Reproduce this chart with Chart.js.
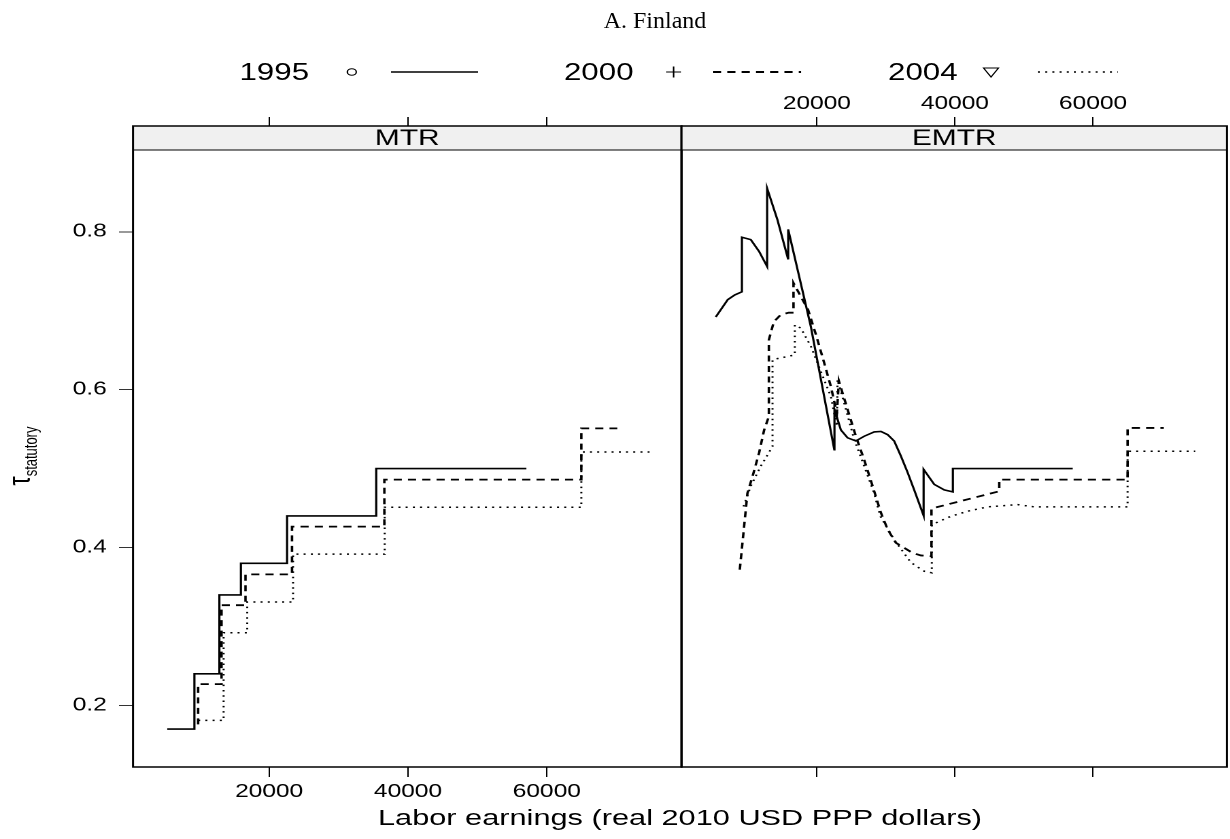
<!DOCTYPE html>
<html>
<head>
<meta charset="utf-8">
<script src="https://cdn.jsdelivr.net/npm/chart.js@4.4.1/dist/chart.umd.min.js"></script>
<style>
  html, body { margin: 0; padding: 0; background: #fff; overflow: hidden; }
  /* the reference is drawn horizontally stretched, so the whole figure is too */
  #wrap { position: relative; width: 904px; height: 839px; transform: scaleX(1.36); transform-origin: 0 0; }
  canvas { position: absolute; top: 0; }
  #mtr { left: 0; }
  #emtr { left: 480px; }
  #deco { position: absolute; left: 0; top: 0; }
</style>
</head>
<body>
<div id="wrap">
  <canvas id="mtr" width="520" height="839"></canvas>
  <canvas id="emtr" width="424" height="839"></canvas>
  <svg id="deco" width="904" height="839"></svg>
</div>
<script>
const years = ['1995', '2000', '2004'];
const panels = ['MTR', 'EMTR'];
const xTicks = [20000, 40000, 60000];
const yTicks = [0.2, 0.4, 0.6, 0.8];

// MTR: step functions, each value holds from its x until the next x
const mtr1995X = [5330, 9240, 12840, 15940, 22590, 35430, 57060];
const mtr1995Y = [0.170, 0.240, 0.340, 0.380, 0.440, 0.500, 0.500];
const mtr2000X = [9780, 9780, 13150, 16600, 23300, 36600, 64970, 70150];
const mtr2000Y = [0.176, 0.227, 0.327, 0.366, 0.4265, 0.486, 0.551, 0.551];
const mtr2004X = [9780, 13450, 16850, 23450, 36650, 64970, 74800];
const mtr2004Y = [0.181, 0.292, 0.331, 0.3916, 0.451, 0.521, 0.521];

// EMTR: curves
const emtr1995X = [5360, 7100, 8120, 9150, 9150, 10430, 11640, 12800, 12800, 14300, 15850, 15850, 19130, 22550, 22550, 23480, 24450, 25650, 26860, 28300, 29280, 30250, 31200, 32170, 33150, 34100, 35460, 35460, 37000, 38450, 39700, 39700, 57060];
const emtr1995Y = [0.692, 0.714, 0.720, 0.724, 0.793, 0.790, 0.775, 0.756, 0.855, 0.815, 0.765, 0.803, 0.680, 0.523, 0.575, 0.549, 0.539, 0.535, 0.541, 0.5465, 0.547, 0.543, 0.535, 0.516, 0.495, 0.473, 0.4405, 0.499, 0.480, 0.473, 0.4705, 0.500, 0.500];
const emtr2000X = [8840, 9470, 9950, 10680, 11640, 12370, 13050, 13050, 13770, 14780, 15940, 16620, 16620, 18740, 19860, 21060, 22030, 22900, 23190, 24450, 25650, 26860, 28070, 29280, 30250, 31450, 32650, 33900, 35070, 36600, 36600, 46420, 46420, 65000, 65000, 70250];
const emtr2000Y = [0.372, 0.427, 0.469, 0.490, 0.520, 0.549, 0.566, 0.663, 0.686, 0.695, 0.6975, 0.6975, 0.735, 0.701, 0.670, 0.634, 0.604, 0.570, 0.611, 0.575, 0.541, 0.511, 0.478, 0.444, 0.423, 0.406, 0.3996, 0.393, 0.390, 0.389, 0.4494, 0.4713, 0.486, 0.486, 0.5515, 0.5515];
const emtr2004X = [9380, 10440, 11880, 13580, 13580, 16810, 16810, 17680, 19130, 20580, 22030, 22900, 23000, 23960, 25410, 26860, 28300, 29170, 31200, 33620, 35550, 36650, 36650, 39420, 41840, 44740, 49090, 51490, 65000, 65000, 74800];
const emtr2004Y = [0.452, 0.478, 0.503, 0.528, 0.638, 0.644, 0.682, 0.678, 0.655, 0.623, 0.5915, 0.5535, 0.613, 0.583, 0.537, 0.503, 0.469, 0.440, 0.410, 0.381, 0.370, 0.368, 0.429, 0.4396, 0.446, 0.4515, 0.4544, 0.4515, 0.4515, 0.522, 0.522];

const SANS = "'Liberation Sans', Arial, sans-serif";
const SERIF = "'Liberation Serif', 'Times New Roman', serif";
const STRETCH = 1.36;
const xMin = 400, xMax = 79400;
const yMin = 0.122, yMax = 0.934;

const lineStyles = [
  { dash: [], width: 1.6 },
  { dash: [6, 4.5], width: 1.8 },
  { dash: [1.5, 3.8], width: 1.5 }
];

function series(xs, ys) {
  return xs.map((x, i) => ({ x: x, y: ys[i] }));
}

function makeDatasets(pairs, stepped) {
  return pairs.map((p, i) => ({
    label: years[i],
    data: series(p[0], p[1]),
    showLine: true,
    stepped: stepped,
    borderColor: '#000',
    borderWidth: lineStyles[i].width,
    borderDash: lineStyles[i].dash,
    borderCapStyle: 'butt',
    pointRadius: 0,
    fill: false
  }));
}

// strip with panel name + frame around the panel
const stripPlugin = {
  id: 'strip',
  afterDraw(chart, args, opts) {
    const { ctx, chartArea: a } = chart;
    ctx.save();
    ctx.fillStyle = '#f0f0f0';
    ctx.fillRect(a.left, a.top, a.right - a.left, 24);
    ctx.strokeStyle = '#000';
    ctx.lineWidth = 1;
    ctx.beginPath();
    ctx.moveTo(a.left, a.top + 24);
    ctx.lineTo(a.right, a.top + 24);
    ctx.stroke();
    ctx.fillStyle = '#000';
    ctx.font = '22px ' + SANS;
    ctx.textAlign = 'center';
    ctx.textBaseline = 'middle';
    ctx.fillText(opts.text, (a.left + a.right) / 2, a.top + 13);
    ctx.lineWidth = 1.5;
    ctx.strokeRect(a.left, a.top, a.right - a.left, a.bottom - a.top);
    ctx.restore();
  }
};

function makePanel(id, name, datasets, stepped, leftWidth, padRight, first) {
  const tickFont = { family: SANS, size: 18 };
  const setXTicks = s => { s.ticks = xTicks.map(v => ({ value: v })); };
  return new Chart(document.getElementById(id), {
    type: 'scatter',
    data: { datasets: makeDatasets(datasets, stepped) },
    plugins: [stripPlugin],
    options: {
      responsive: false,
      animation: false,
      devicePixelRatio: 2,
      layout: { padding: { left: 0, right: padRight, top: 0, bottom: 0 }, autoPadding: false },
      plugins: { legend: { display: false }, tooltip: { enabled: false }, strip: { text: name } },
      scales: {
        x: {
          type: 'linear', position: 'bottom', min: xMin, max: xMax,
          afterBuildTicks: setXTicks,
          afterFit: s => { s.height = 72; },
          ticks: { display: first, font: tickFont, color: '#000', padding: 4, maxRotation: 0, autoSkip: false, callback: v => String(v) },
          grid: { drawOnChartArea: false, tickLength: 10, tickColor: '#000', lineWidth: 1 },
          border: { display: false }
        },
        xTop: {
          type: 'linear', position: 'top', min: xMin, max: xMax,
          afterBuildTicks: setXTicks,
          afterFit: s => { s.height = 126; },
          ticks: { display: !first, font: tickFont, color: '#000', padding: 2, maxRotation: 0, autoSkip: false, callback: v => String(v) },
          grid: { drawOnChartArea: false, tickLength: 9, tickColor: '#000', lineWidth: 1 },
          border: { display: false }
        },
        y: {
          type: 'linear', position: 'left', min: yMin, max: yMax,
          afterBuildTicks: s => { s.ticks = yTicks.map(v => ({ value: v })); },
          afterFit: s => { s.width = leftWidth; },
          ticks: { display: first, font: tickFont, color: '#000', padding: 9, callback: v => v.toFixed(1) },
          grid: { display: first, drawOnChartArea: false, tickLength: 10.3, tickColor: '#333', lineWidth: 1 },
          border: { display: false }
        }
      }
    }
  });
}

makePanel('mtr', panels[0], [[mtr1995X, mtr1995Y], [mtr2000X, mtr2000Y], [mtr2004X, mtr2004Y]], true, 97.8, 18.9, true);
makePanel('emtr', panels[1], [[emtr1995X, emtr1995Y], [emtr2000X, emtr2000Y], [emtr2004X, emtr2004Y]], false, 21.1, 1.8, false);

// title, legend and axis titles
const NS = 'http://www.w3.org/2000/svg';
const deco = document.getElementById('deco');
function add(tag, attrs, text) {
  const el = document.createElementNS(NS, tag);
  for (const k in attrs) el.setAttribute(k, attrs[k]);
  if (text !== undefined) el.textContent = text;
  deco.appendChild(el);
  return el;
}

// the title is not stretched in the reference: undo the stretch for it
add('text', { x: 655, y: 28, 'text-anchor': 'middle', 'font-family': SERIF, 'font-size': 24, transform: `scale(${1 / STRETCH} 1)` }, 'A. Finland');

const legTextX = [176.1, 414.7, 653];
const legSymX = [258.7, 495.3, 728.7];
const legLine = [[287.5, 351.5], [524.3, 589], [763.2, 822]];
const legY = 72;
years.forEach((yr, i) => {
  add('text', { x: legTextX[i], y: legY + 8, 'font-family': SANS, 'font-size': 23 }, yr);
  const cx = legSymX[i];
  if (i === 0) add('circle', { cx: cx, cy: legY, r: 3.3, fill: 'none', stroke: '#000', 'stroke-width': 1 });
  if (i === 1) add('path', { d: `M${cx - 5.5} ${legY} H${cx + 5.5} M${cx} ${legY - 5.5} V${legY + 5.5}`, stroke: '#000', 'stroke-width': 1.2 });
  if (i === 2) add('path', { d: `M${cx - 5.5} ${legY - 4} H${cx + 5.5} L${cx} ${legY + 5} Z`, fill: 'none', stroke: '#000', 'stroke-width': 1 });
  add('line', {
    x1: legLine[i][0], x2: legLine[i][1], y1: legY, y2: legY,
    stroke: '#000', 'stroke-width': lineStyles[i].width,
    'stroke-dasharray': lineStyles[i].dash.length ? lineStyles[i].dash.join(' ') : 'none'
  });
});

add('text', { x: 500, y: 825, 'text-anchor': 'middle', 'font-family': SANS, 'font-size': 22.6 }, 'Labor earnings (real 2010 USD PPP dollars)');

const ylab = add('text', { x: 22, y: 456, 'text-anchor': 'middle', 'font-family': SANS, 'font-size': 23, transform: 'rotate(-90 22 456)' }, 'τ');
const sub = document.createElementNS(NS, 'tspan');
sub.setAttribute('font-size', 13);
sub.setAttribute('dy', 5);
sub.textContent = 'statutory';
ylab.appendChild(sub);
</script>
</body>
</html>
